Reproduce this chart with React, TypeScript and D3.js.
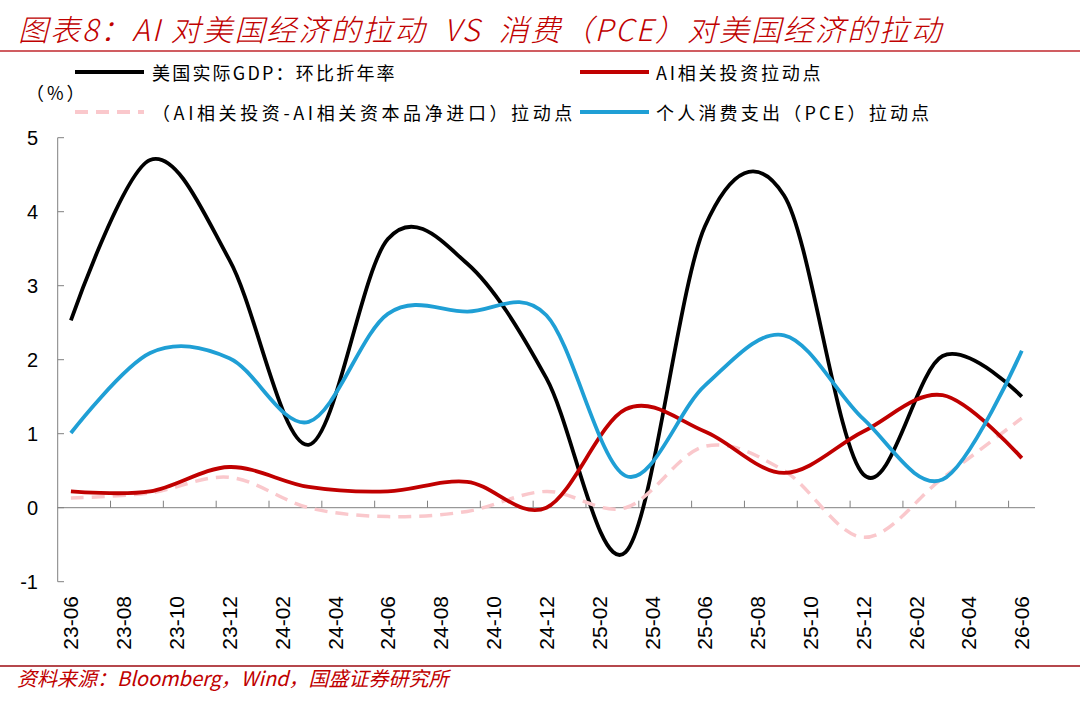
import { useEffect } from 'react'
import * as d3 from 'd3'

// 月度类目轴（每两个月一个标签），季度数据落在季末月
const months = [
  '23-06', '23-07', '23-08', '23-09', '23-10', '23-11', '23-12',
  '24-01', '24-02', '24-03', '24-04', '24-05', '24-06', '24-07', '24-08', '24-09', '24-10', '24-11', '24-12',
  '25-01', '25-02', '25-03', '25-04', '25-05', '25-06', '25-07', '25-08', '25-09', '25-10', '25-11', '25-12',
  '26-01', '26-02', '26-03', '26-04', '26-05', '26-06',
]
const quarters = ['23-06', '23-09', '23-12', '24-03', '24-06', '24-09', '24-12', '25-03', '25-06', '25-09', '25-12', '26-03', '26-06']

const gdp = [2.53, 4.7, 3.35, 0.85, 3.63, 3.3, 1.75, -0.6, 3.8, 4.22, 0.45, 2.05, 1.5]
const aiInvest = [0.22, 0.22, 0.55, 0.28, 0.22, 0.35, 0.0, 1.33, 1.03, 0.47, 1.03, 1.52, 0.67]
const aiNetOfImports = [0.13, 0.2, 0.41, 0.0, -0.12, -0.05, 0.22, 0.0, 0.83, 0.5, -0.4, 0.4, 1.21]
const pce = [1.01, 2.09, 2.02, 1.16, 2.62, 2.65, 2.6, 0.43, 1.65, 2.33, 1.2, 0.38, 2.12]

const yTicks = [-1, 0, 1, 2, 3, 4, 5]

const RED = '#c00000'
const BLUE = '#1f9fd5'
const PINK = '#fac8cc'
const AXIS = '#808080'
const FONT = '"Liberation Sans", "Noto Sans CJK SC", sans-serif'
const CJK = '"Noto Sans CJK SC", "Liberation Sans", sans-serif'

export default function App() {
  useEffect(() => {
    document.body.style.margin = '0'
  }, [])

  const width = 1080
  const height = 709

  const x = d3.scaleBand<string>().domain(months).range([57.7, 1035]).padding(0)
  const y = d3.scaleLinear().domain([-1, 5]).range([581.7, 137.7])
  const bw = x.bandwidth()
  const cx = (m: string) => (x(m) ?? 0) + bw / 2

  const line = d3.line<number>()
    .x((_, i) => cx(quarters[i]))
    .y(d => y(d))
    .curve(d3.curveCardinal.tension(0))

  const labelMonths = months.filter((_, i) => i % 2 === 0)
  const tickMonths = months.filter((_, i) => i % 2 === 0 && i > 0)

  return (
    <svg width={width} height={height} style={{ display: 'block', background: '#fff' }} fontFamily={FONT}>
      {/* 标题 */}
      <text x={18} y={41} fill={RED} fontSize={30} fontWeight={300} fontStyle="italic" fontFamily={CJK}
        letterSpacing={2} style={{ whiteSpace: 'pre' }}>
        图表8：AI 对美国经济的拉动  VS  消费（PCE）对美国经济的拉动
      </text>
      <line x1={0} x2={width} y1={51} y2={51} stroke="#c0272d" strokeWidth={1.5} />

      {/* 图例 */}
      <g fontSize={18} fill="#000" letterSpacing={2.8} fontFamily={CJK}>
        <line x1={75} x2={144} y1={72} y2={72} stroke="#000" strokeWidth={4} />
        <text x={152} y={72} dominantBaseline="central" letterSpacing={2.2}>美国实际GDP：环比折年率</text>
        <line x1={580} x2={649} y1={72} y2={72} stroke={RED} strokeWidth={4} />
        <text x={656} y={72} dominantBaseline="central">AI相关投资拉动点</text>
        <line x1={75} x2={144} y1={112} y2={112} stroke={PINK} strokeWidth={4} strokeDasharray="13,8" />
        <text x={152} y={112} dominantBaseline="central" letterSpacing={3.6}>（AI相关投资-AI相关资本品净进口）拉动点</text>
        <line x1={580} x2={649} y1={112} y2={112} stroke={BLUE} strokeWidth={4} />
        <text x={656} y={112} dominantBaseline="central" letterSpacing={3.2}>个人消费支出（PCE）拉动点</text>
        <text x={26} y={92} dominantBaseline="central" letterSpacing={3}>（%）</text>
      </g>

      {/* Y 轴 */}
      <line x1={57.7} x2={57.7} y1={y(5)} y2={y(-1)} stroke={AXIS} strokeWidth={1} />
      {yTicks.map(t => (
        <g key={t}>
          <line x1={57.7} x2={64} y1={y(t)} y2={y(t)} stroke={AXIS} strokeWidth={1} />
          <text x={38} y={y(t)} textAnchor="end" dominantBaseline="central" fontSize={20} fill="#000">{t}</text>
        </g>
      ))}

      {/* X 轴（零线） */}
      <line x1={57.7} x2={1035} y1={y(0)} y2={y(0)} stroke={AXIS} strokeWidth={1} />
      {tickMonths.map(m => (
        <line key={m} x1={x(m)} x2={x(m)} y1={y(0)} y2={y(0) - 7} stroke={AXIS} strokeWidth={1} />
      ))}
      {labelMonths.map(m => (
        <text
          key={m}
          transform={`translate(${cx(m)},596) rotate(-90)`}
          textAnchor="end"
          dominantBaseline="central"
          fontSize={21}
          fill="#000"
        >
          {m}
        </text>
      ))}

      {/* 数据线 */}
      <path d={line(gdp) ?? ''} fill="none" stroke="#000" strokeWidth={3.8} strokeLinejoin="round" />
      <path d={line(aiNetOfImports) ?? ''} fill="none" stroke={PINK} strokeWidth={3.5} strokeDasharray="13,8" />
      <path d={line(aiInvest) ?? ''} fill="none" stroke={RED} strokeWidth={3.8} strokeLinejoin="round" />
      <path d={line(pce) ?? ''} fill="none" stroke={BLUE} strokeWidth={3.8} strokeLinejoin="round" />

      {/* 资料来源 */}
      <line x1={0} x2={width} y1={666} y2={666} stroke="#b5474c" strokeWidth={2} />
      <text x={17} y={686} fill={RED} fontSize={20} fontStyle="italic" fontFamily={CJK}>
        资料来源：Bloomberg，Wind，国盛证券研究所
      </text>
    </svg>
  )
}
